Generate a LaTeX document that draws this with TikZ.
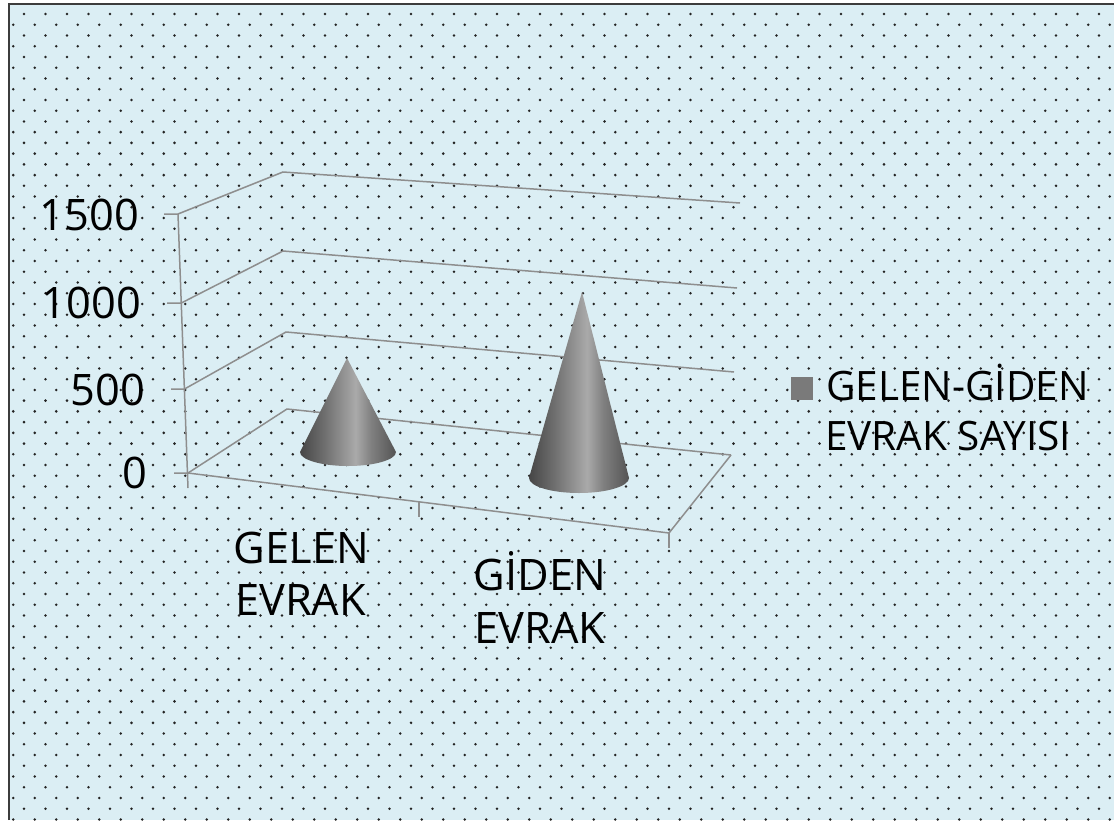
\documentclass[tikz,border=0pt]{standalone}
\usepackage{fontspec}
\setmainfont{Open Sans}
\definecolor{bgblue}{RGB}{219,238,244}
\definecolor{framec}{RGB}{60,60,60}
\definecolor{gridgray}{RGB}{142,142,142}
\definecolor{dotc}{RGB}{35,35,35}
\definecolor{legsq}{RGB}{122,122,122}
\definecolor{cA}{RGB}{70,70,70}
\definecolor{cB}{RGB}{112,112,112}
\definecolor{cC}{RGB}{148,148,148}
\definecolor{cD}{RGB}{170,170,170}
\definecolor{cE}{RGB}{128,128,128}
\definecolor{cF}{RGB}{84,84,84}
\pgfdeclarehorizontalshading{conesh}{100bp}{color(0bp)=(cA); color(25bp)=(cA); color(38bp)=(cB); color(48bp)=(cC); color(54bp)=(cD); color(62bp)=(cE); color(75bp)=(cF); color(100bp)=(cF)}
\tikzset{
  gridline/.style={draw=gridgray, line width=1.5pt},
  ylab/.style={anchor=base east, inner sep=0pt, font=\fontsize{43.4pt}{52pt}\selectfont},
  catlab/.style={anchor=base, inner sep=0pt, font=\fontsize{43.4pt}{52pt}\selectfont},
  leglab/.style={anchor=base west, inner sep=0pt, font=\fontsize{40.5pt}{50pt}\selectfont},
  conebody/.style={shading=conesh}
}
\begin{document}
\begin{tikzpicture}[x=1pt, y=-1pt]
\useasboundingbox (0,0) rectangle (1114,820);
\fill[white] (0,0) rectangle (1114,820);
\fill[bgblue] (9,4) rectangle (1114,820);
% dot pattern
\begin{scope}
\clip (10,5) rectangle (1114,820);
\foreach \j in {0,...,38} {
  \foreach \i in {0,...,51} {
    \fill[dotc] (24+21.5*\i, 14+21.48*\j) circle[radius=1.4pt];
    \fill[dotc] (13.25+21.5*\i, 24.74+21.48*\j) circle[radius=1.4pt];
  }
}
\end{scope}
\draw[framec, line width=2pt] (9,820) -- (9,4) -- (1114,4);

% chart frame coordinates
\coordinate (f15) at (178,214);
\coordinate (f10) at (181.3,303);
\coordinate (f05) at (184.5,389);
\coordinate (f00) at (188,473);
\coordinate (fbot) at (188,488);
\coordinate (b15) at (283,172);
\coordinate (b10) at (283,251);
\coordinate (b05) at (286,332);
\coordinate (b00) at (287,409);
\coordinate (r15) at (740,203);
\coordinate (r10) at (737,288);
\coordinate (r05) at (734,372);
\coordinate (r00) at (731,455);
\coordinate (fr) at (669,533);
\coordinate (frt) at (669,548);
\coordinate (fm) at (419,502);
\coordinate (fmt) at (419,517);
\coordinate (t15) at (164,214);
\coordinate (t10) at (167,303);
\coordinate (t05) at (171,389);
\coordinate (t00) at (174,473);

% grid lines
\draw[gridline] (f15) -- (fbot);
\draw[gridline] (t15) -- (f15) -- (b15) -- (r15);
\draw[gridline] (t10) -- (f10) -- (b10) -- (r10);
\draw[gridline] (t05) -- (f05) -- (b05) -- (r05);
\draw[gridline] (t00) -- (f00) -- (b00) -- (r00);
\draw[gridline] (f00) -- (fr) -- (r00);
\draw[gridline] (fm) -- (fmt);
\draw[gridline] (fr) -- (frt);

% cones
\coordinate (apex1) at (347,358);
\coordinate (base1) at (348,452);
\coordinate (apex2) at (582,292);
\coordinate (base2) at (579,478);
\path[conebody] (apex1) -- (300,452) arc[start angle=180, end angle=360, x radius=48pt, y radius=14pt] -- cycle;
\path[conebody] (apex2) -- (529,478) arc[start angle=180, end angle=360, x radius=50pt, y radius=15pt] -- cycle;

% y-axis labels
\node[ylab] (y1500) at (139,230) {1500};
\node[ylab] (y1000) at (141,318) {1000};
\node[ylab] (y500) at (145,405) {500};
\node[ylab] (y0) at (148,488) {0};

% category labels
\node[catlab] (gelenA) at (301.5,563) {GELEN};
\node[catlab] (gelenB) at (300.5,615) {EVRAK};
\node[catlab] (gidenA) at (540,590) {GİDEN};
\node[catlab] (gidenB) at (540,643) {EVRAK};

% legend
\fill[legsq] (791,377) rectangle (813,400);
\node[leglab] (legA) at (826,400) {GELEN-GİDEN};
\node[leglab] (legB) at (825,450) {EVRAK SAYISI};
\end{tikzpicture}
\end{document}
